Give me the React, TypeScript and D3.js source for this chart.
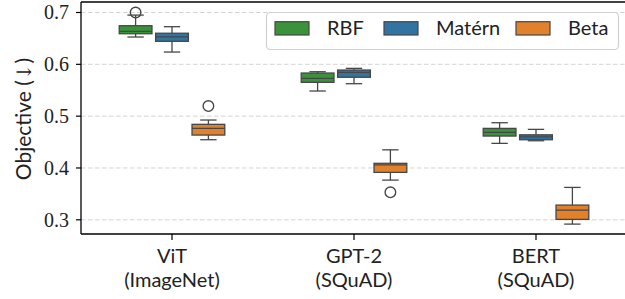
import React from "react";
import * as d3 from "d3";

const categories = ["ViT|(ImageNet)", "GPT-2|(SQuAD)", "BERT|(SQuAD)"];
const kernels = ["RBF", "Matérn", "Beta"];
const colors = ["#3a923a", "#3274a1", "#e1812c"];
const yTicks = [0.3, 0.4, 0.5, 0.6, 0.7];

// [low whisker, q1, median, q3, high whisker] per category
const rbfStats = [
  [0.6527, 0.659, 0.6636, 0.6745, 0.695],
  [0.5485, 0.5652, 0.573, 0.5832, 0.5857],
  [0.4475, 0.4616, 0.4687, 0.4764, 0.4873],
];
const maternStats = [
  [0.6237, 0.6444, 0.653, 0.66, 0.6726],
  [0.5626, 0.575, 0.5845, 0.589, 0.5922],
  [0.4525, 0.4545, 0.4602, 0.464, 0.4745],
];
const betaStats = [
  [0.4545, 0.4635, 0.4765, 0.4842, 0.4925],
  [0.3766, 0.3915, 0.406, 0.409, 0.435],
  [0.2917, 0.3008, 0.3187, 0.3284, 0.3625],
];
const rbfOutliers = [[0.7], [], []];
const maternOutliers = [[], [], []];
const betaOutliers = [[0.5195], [0.353], []];

const W = 625, H = 299;
const left = 81, top = 2, bottom = 234, right = 627;
const SANS = "Lato, 'DejaVu Sans', sans-serif";
const SERIF = "'Liberation Serif', 'DejaVu Serif', serif";

export default function App() {
  const x = d3.scaleBand().domain(categories).range([left, right]).padding(0);
  const bw = x.bandwidth();
  const inner = d3.scaleBand().domain(kernels).range([-0.3 * bw, 0.3 * bw]).padding(0);
  const boxW = inner.bandwidth() * 0.9;
  const y = d3.scaleLinear().domain([0.2726, 0.72026]).range([bottom, top]);
  const stats = [rbfStats, maternStats, betaStats];
  const outs = [rbfOutliers, maternOutliers, betaOutliers];
  const lineCol = "#474747";

  return (
    <svg width={W} height={H} style={{ position: "absolute", left: 0, top: 0, background: "#fff" }}>
      <defs>
        <clipPath id="plot">
          <rect x={left} y={top} width={right - left} height={bottom - top} />
        </clipPath>
      </defs>
      {yTicks.map((t) => (
        <line key={"g" + t} x1={left} x2={W} y1={y(t)} y2={y(t)} stroke="#d4d4d4" strokeWidth={1} strokeDasharray="4.5,2.5" />
      ))}
      <g clipPath="url(#plot)">
        {categories.map((c, ci) =>
          kernels.map((k, ki) => {
            const s = stats[ki][ci];
            const cx = (x(c) as number) + bw / 2 + (inner(k) as number) + inner.bandwidth() / 2;
            const capW = boxW / 2;
            return (
              <g key={c + k}>
                <line x1={cx} x2={cx} y1={y(s[0])} y2={y(s[1])} stroke={lineCol} strokeWidth={1.3} />
                <line x1={cx} x2={cx} y1={y(s[3])} y2={y(s[4])} stroke={lineCol} strokeWidth={1.3} />
                <line x1={cx - capW / 2} x2={cx + capW / 2} y1={y(s[0])} y2={y(s[0])} stroke={lineCol} strokeWidth={1.3} />
                <line x1={cx - capW / 2} x2={cx + capW / 2} y1={y(s[4])} y2={y(s[4])} stroke={lineCol} strokeWidth={1.3} />
                <rect x={cx - boxW / 2} y={y(s[3])} width={boxW} height={y(s[1]) - y(s[3])} fill={colors[ki]} stroke={lineCol} strokeWidth={1.3} />
                <line x1={cx - boxW / 2} x2={cx + boxW / 2} y1={y(s[2])} y2={y(s[2])} stroke={lineCol} strokeWidth={1.3} />
                {outs[ki][ci].map((o, oi) => (
                  <circle key={oi} cx={cx} cy={y(o)} r={5.3} fill="none" stroke={lineCol} strokeWidth={1.4} />
                ))}
              </g>
            );
          })
        )}
      </g>
      {/* spines */}
      <line x1={left} x2={W} y1={top} y2={top} stroke="#000" strokeWidth={1.3} />
      <line x1={left} x2={W} y1={bottom} y2={bottom} stroke="#000" strokeWidth={1.3} />
      <line x1={left} x2={left} y1={top} y2={bottom} stroke="#000" strokeWidth={1.3} />
      {/* y ticks */}
      {yTicks.map((t) => (
        <g key={"t" + t}>
          <line x1={left - 5} x2={left} y1={y(t)} y2={y(t)} stroke="#000" strokeWidth={1.2} />
          <text x={left - 12} y={y(t)} dy="0.35em" textAnchor="end" fontFamily={SERIF} fontSize={20} fill="#222">
            {t.toFixed(1)}
          </text>
        </g>
      ))}
      {/* x ticks */}
      {categories.map((c) => {
        const cx = (x(c) as number) + bw / 2;
        const [a, b] = c.split("|");
        return (
          <g key={"x" + c}>
            <line x1={cx} x2={cx} y1={bottom} y2={bottom + 6} stroke="#000" strokeWidth={1.2} />
            <text x={cx} y={263} textAnchor="middle" fontFamily={SANS} fontSize={20} fill="#222">{a}</text>
            <text x={cx} y={287} textAnchor="middle" fontFamily={SANS} fontSize={20} fill="#222">{b}</text>
          </g>
        );
      })}
      <text transform={`translate(31,119) rotate(-90)`} textAnchor="middle" fontFamily={SANS} fontSize={21} fill="#222">
        Objective (<tspan fontFamily="'DejaVu Serif', serif" fontSize={20}>↓</tspan>)
      </text>
      {/* legend */}
      <rect x={266.5} y={12.5} width={352} height={37} rx={4} fill="#fff" fillOpacity={0.85} stroke="#d0d0d0" strokeWidth={1.2} />
      {kernels.map((k, ki) => {
        const px = [275, 384, 516][ki];
        return (
          <g key={"l" + k}>
            <rect x={px} y={21.7} width={34} height={13.3} fill={colors[ki]} stroke={lineCol} strokeWidth={1.2} />
            <text x={px + 52} y={35} fontFamily={SANS} fontSize={20} fill="#222">{k}</text>
          </g>
        );
      })}
    </svg>
  );
}
